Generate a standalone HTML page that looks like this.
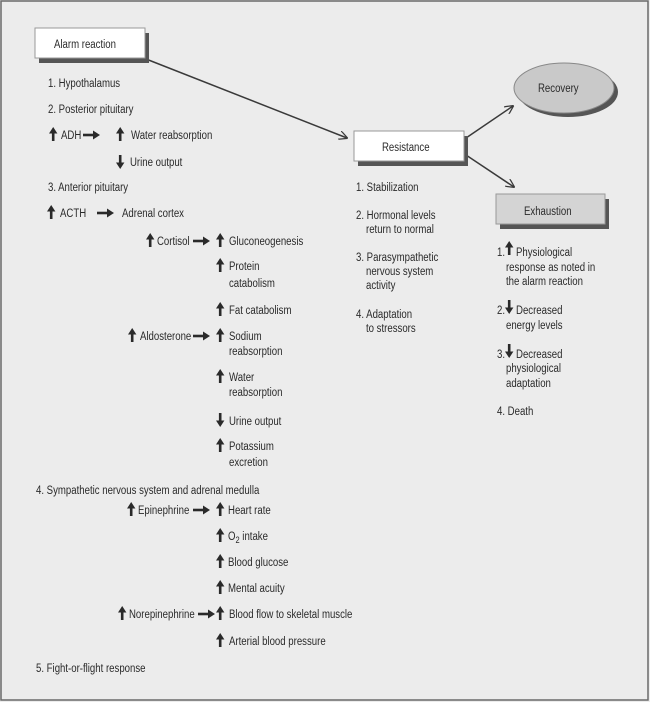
<!DOCTYPE html>
<html><head><meta charset="utf-8"><style>
html,body{margin:0;padding:0;background:#fff}
svg{display:block}
text{font-family:"Liberation Sans",Arial,sans-serif;font-size:11.6px;fill:#2a2a2a;transform-box:fill-box;transform-origin:0 0;transform:scaleX(.83)}
</style></head><body>
<svg width="650" height="702" viewBox="0 0 650 702" xmlns="http://www.w3.org/2000/svg">
<defs>
<g id="u"><rect x="2.9" y="4" width="2.6" height="10" fill="#2a2a2a"/><polygon points="0,6.5 4.2,0 8.4,6.5" fill="#2a2a2a"/></g>
<g id="d"><rect x="2.9" y="0" width="2.6" height="10" fill="#2a2a2a"/><polygon points="0,7.5 4.2,14 8.4,7.5" fill="#2a2a2a"/></g>
<g id="r"><rect x="0" y="-1.3" width="12" height="2.6" fill="#2a2a2a"/><polygon points="10,-4.5 17,0 10,4.5" fill="#2a2a2a"/></g>
<marker id="ah" viewBox="0 0 10 10" refX="9" refY="5" markerWidth="9" markerHeight="9" orient="auto" markerUnits="userSpaceOnUse"><path d="M0,0 L10,5 L0,10" fill="none" stroke="#3a3a3a" stroke-width="1.4"/></marker>
</defs>
<rect x="0" y="0" width="650" height="702" fill="#ececec"/>
<rect x="1" y="1" width="647" height="699" fill="none" stroke="#6a6a6a" stroke-width="1.5"/>

<line x1="146" y1="59" x2="347" y2="138" stroke="#3a3a3a" stroke-width="1.5" marker-end="url(#ah)"/>
<line x1="466" y1="138" x2="513" y2="106" stroke="#3a3a3a" stroke-width="1.5" marker-end="url(#ah)"/>
<line x1="466" y1="155" x2="514" y2="187" stroke="#3a3a3a" stroke-width="1.5" marker-end="url(#ah)"/>

<rect x="39" y="33" width="110" height="30" fill="#555"/>
<rect x="35" y="28" width="110" height="30" fill="#fff" stroke="#999" stroke-width="1"/>
<text x="54" y="48">Alarm reaction</text>

<rect x="358" y="136" width="110" height="30" fill="#555"/>
<rect x="354" y="131" width="110" height="30" fill="#fff" stroke="#999" stroke-width="1"/>
<text x="382" y="151">Resistance</text>

<ellipse cx="568" cy="92" rx="50" ry="25" fill="#555"/>
<ellipse cx="564" cy="88" rx="50" ry="25" fill="#c9c9c9" stroke="#888" stroke-width="1"/>
<text x="538" y="92">Recovery</text>

<rect x="500" y="199" width="109" height="30" fill="#555"/>
<rect x="496" y="194" width="109" height="30" fill="#d4d4d4" stroke="#999" stroke-width="1"/>
<text x="524" y="215">Exhaustion</text>

<text x="48" y="87">1. Hypothalamus</text>
<text x="48" y="113">2. Posterior pituitary</text>
<use href="#u" x="49" y="127"/><text x="61" y="139">ADH</text>
<use href="#r" x="83" y="135"/>
<use href="#u" x="116" y="127"/><text x="131" y="139">Water reabsorption</text>
<use href="#d" x="116" y="155"/><text x="130" y="166">Urine output</text>
<text x="48" y="191">3. Anterior pituitary</text>
<use href="#u" x="47" y="205"/><text x="60" y="217">ACTH</text>
<use href="#r" x="97" y="213"/><text x="122" y="217">Adrenal cortex</text>

<use href="#u" x="146" y="233"/><text x="157" y="245">Cortisol</text>
<use href="#r" x="193" y="241"/>
<use href="#u" x="216" y="233"/><text x="229" y="245">Gluconeogenesis</text>
<use href="#u" x="216" y="258"/><text x="229" y="270">Protein</text>
<text x="229" y="287">catabolism</text>
<use href="#u" x="216" y="302"/><text x="229" y="314">Fat catabolism</text>
<use href="#u" x="128" y="328"/><text x="140" y="340">Aldosterone</text>
<use href="#r" x="193" y="336"/>
<use href="#u" x="216" y="328"/><text x="229" y="340">Sodium</text>
<text x="229" y="355">reabsorption</text>
<use href="#u" x="216" y="369"/><text x="229" y="381">Water</text>
<text x="229" y="396">reabsorption</text>
<use href="#d" x="216" y="413"/><text x="229" y="425">Urine output</text>
<use href="#u" x="216" y="438"/><text x="229" y="450">Potassium</text>
<text x="229" y="466">excretion</text>

<text x="36" y="494">4.  Sympathetic nervous system and adrenal medulla</text>
<use href="#u" x="127" y="502"/><text x="138" y="514">Epinephrine</text>
<use href="#r" x="193" y="510"/>
<use href="#u" x="216" y="502"/><text x="228" y="514">Heart rate</text>
<use href="#u" x="216" y="528"/><text x="228" y="540">O<tspan font-size="9" dy="3">2</tspan><tspan dy="-3"> intake</tspan></text>
<use href="#u" x="216" y="554"/><text x="228" y="566">Blood glucose</text>
<use href="#u" x="216" y="580"/><text x="228" y="592">Mental acuity</text>
<use href="#u" x="118" y="606"/><text x="129" y="618">Norepinephrine</text>
<use href="#r" x="198" y="614"/>
<use href="#u" x="216" y="606"/><text x="229" y="618">Blood flow to skeletal muscle</text>
<use href="#u" x="216" y="633"/><text x="229" y="645">Arterial blood pressure</text>
<text x="36" y="672">5. Fight-or-flight response</text>

<text x="356" y="191">1. Stabilization</text>
<text x="356" y="219">2. Hormonal levels</text>
<text x="366" y="233">return to normal</text>
<text x="356" y="261">3. Parasympathetic</text>
<text x="366" y="275">nervous system</text>
<text x="366" y="289">activity</text>
<text x="356" y="318">4. Adaptation</text>
<text x="366" y="332">to stressors</text>

<text x="497" y="256">1.</text><use href="#u" x="505" y="241"/><text x="516" y="256">Physiological</text>
<text x="506" y="271">response as noted in</text>
<text x="506" y="285">the alarm reaction</text>
<text x="497" y="314">2.</text><use href="#d" x="505" y="300"/><text x="516" y="314">Decreased</text>
<text x="506" y="329">energy levels</text>
<text x="497" y="358">3.</text><use href="#d" x="505" y="344"/><text x="516" y="358">Decreased</text>
<text x="506" y="372">physiological</text>
<text x="506" y="387">adaptation</text>
<text x="497" y="415">4. Death</text>
</svg>
</body></html>
